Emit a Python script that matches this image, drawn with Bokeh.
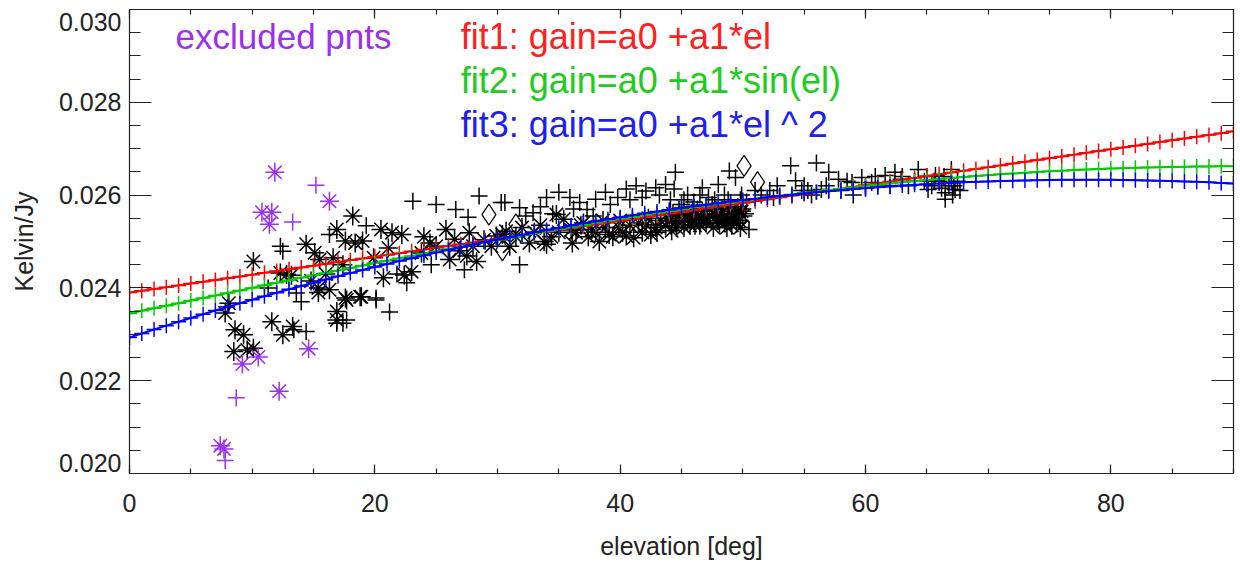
import numpy as np
from bokeh.plotting import figure
from bokeh.models import Range1d, LinearAxis, FixedTicker, Label, CustomJSTickFormatter
from bokeh.embed import file_html
from bokeh.resources import INLINE

# ---------------- data ----------------
# black "+" points (used points)
plus_el = [12.3, 12.5, 13.4, 14.4, 16.3, 16.9, 17.7, 20.1, 21.2, 23.1, 13.6, 19.3, 20.1, 22.6,
           24.6, 27.3, 17.4, 25.0, 26.6, 28.5, 30.3, 27.6, 21.8, 31.8, 14.0, 11.3,
           30.6, 31.8, 32.9, 34.0, 35.0, 35.9, 36.7, 37.3, 38.0, 38.8, 39.8, 40.5, 41.3, 42.1,
           42.9, 43.7, 44.5, 33.5, 36.2, 39.2, 41.8, 43.2, 37.8, 40.8, 34.5, 32.3,
           44.4, 46.7, 48.0, 48.9, 49.4, 45.5, 47.2, 48.5, 49.8, 45.0, 46.0, 47.5, 49.0, 50.3,
           44.8, 46.3, 47.8, 49.6, 50.5, 50.2,
           53.9, 54.3, 53.0, 51.5, 52.2, 55.0, 55.6, 56.0, 57.0, 57.8, 58.9, 59.7, 60.5, 61.6,
           62.4, 62.9, 64.3, 65.1, 65.7, 66.5, 67.0, 67.3, 66.5, 56.4, 58.0, 59.0, 60.0, 61.0,
           63.5, 64.0, 64.8, 65.4, 66.0, 66.8, 67.5, 65.0, 66.2, 67.1, 52.8, 54.8,
           44.1, 45.2, 46.5, 47.7, 48.8, 49.9, 50.0, 45.9, 47.0, 48.3, 49.3, 56.8, 58.5, 60.8,
           62.0, 63.0, 65.6, 66.4, 67.2, 67.7, 51.0, 52.5, 54.0, 55.3]
plus_val = [0.02490, 0.02479, 0.02310, 0.02306, 0.02515, 0.02324, 0.02331, 0.02374, 0.02348, 0.02587,
            0.02389, 0.02534, 0.02378, 0.02411, 0.02450, 0.02439, 0.02324, 0.02580, 0.02569, 0.02598,
            0.02584, 0.02552, 0.02430, 0.02450, 0.02370, 0.02400,
            0.02584, 0.02573, 0.02562, 0.02595, 0.02606, 0.02595, 0.02584, 0.02569, 0.02591, 0.02606,
            0.02595, 0.02613, 0.02620, 0.02609, 0.02616, 0.02623, 0.02649, 0.02575, 0.02570, 0.02580,
            0.02595, 0.02600, 0.02555, 0.02590, 0.02560, 0.02555,
            0.02613, 0.02616, 0.02623, 0.02652, 0.02638, 0.02600, 0.02595, 0.02600, 0.02590, 0.02580,
            0.02585, 0.02580, 0.02575, 0.02585, 0.02570, 0.02570, 0.02570, 0.02575, 0.02526, 0.02560,
            0.02663, 0.02631, 0.02598, 0.02600, 0.02610, 0.02620, 0.02600, 0.02669, 0.02649, 0.02634,
            0.02627, 0.02638, 0.02627, 0.02642, 0.02649, 0.02634, 0.02655, 0.02612, 0.02642, 0.02605,
            0.02655, 0.02612, 0.02591, 0.02612, 0.02610, 0.02600, 0.02615, 0.02620, 0.02620, 0.02630,
            0.02630, 0.02620, 0.02630, 0.02620, 0.02630, 0.02640, 0.02615, 0.02600, 0.02620, 0.02610,
            0.02590, 0.02590, 0.02600, 0.02590, 0.02590, 0.02600, 0.02570, 0.02570, 0.02560, 0.02570,
            0.02560, 0.02620, 0.02630, 0.02640, 0.02620, 0.02640, 0.02630, 0.02640, 0.02620, 0.02610,
            0.02610, 0.02595, 0.02600, 0.02610]

# black asterisk points
star_el = [8.1, 7.8, 8.6, 9.3, 8.5, 9.6, 10.1, 10.1, 11.6, 12.5, 13.3, 12.3, 12.8, 13.2, 14.4,
           15.1, 15.5, 16.3, 16.9, 17.7, 18.9, 18.2, 16.9, 17.6, 18.4, 19.0, 20.5, 21.4, 22.2,
           21.1, 19.9, 16.6, 17.4, 20.7, 22.4, 23.0, 18.8, 17.6, 16.9, 15.4, 15.4, 14.8, 16.0,
           24.5, 25.8, 26.1, 27.7, 27.5, 28.3, 28.9, 29.9, 30.4, 26.9, 23.8, 25.0, 24.0, 26.5,
           28.0, 29.5,
           30.7, 32.6, 34.0, 34.8, 35.4, 36.4, 36.1, 37.7, 39.1, 39.9, 40.5, 41.1, 42.1, 42.9,
           43.7, 44.2, 31.5, 33.0, 33.5, 35.0, 37.0, 38.3, 38.8, 40.0, 41.5, 42.5, 43.3, 31.0,
           32.0, 36.8,
           44.5, 44.8, 45.2, 45.5, 45.8, 46.1, 46.4, 46.7, 47.0, 47.3, 47.6, 47.9, 48.2, 48.5,
           48.8, 49.1, 49.4, 49.7, 50.0, 44.0, 45.0, 46.0, 47.0, 48.0, 49.0, 49.5, 46.5, 48.4,
           38.0, 38.6, 39.4, 40.2, 40.8, 41.8, 42.3, 43.0, 43.8, 44.3, 45.3, 46.2, 47.1, 48.1,
           49.2, 49.9, 44.6, 45.7, 46.8, 47.7, 48.7, 49.8, 34.4, 36.0, 37.4, 33.8]
star_val = [0.02367, 0.02346, 0.02310, 0.02299, 0.02263, 0.02266, 0.02270, 0.02457, 0.02327, 0.02299,
            0.02317, 0.02432, 0.02429, 0.02427, 0.02494, 0.02476, 0.02461, 0.02396, 0.02349, 0.02374,
            0.02381, 0.02555, 0.02526, 0.02501, 0.02497, 0.02501, 0.02526, 0.02519, 0.02515, 0.02486,
            0.02465, 0.02465, 0.02450, 0.02422, 0.02428, 0.02435, 0.02381, 0.02378, 0.02331, 0.02400,
            0.02390, 0.02415, 0.02430,
            0.02497, 0.02526, 0.02461, 0.02519, 0.02469, 0.02457, 0.02504, 0.02512, 0.02515, 0.02480,
            0.02475, 0.02490, 0.02510, 0.02505, 0.02490, 0.02490,
            0.02522, 0.02497, 0.02494, 0.02558, 0.02548, 0.02519, 0.02497, 0.02526, 0.02515, 0.02530,
            0.02512, 0.02508, 0.02536, 0.02530, 0.02534, 0.02523, 0.02510, 0.02520, 0.02535, 0.02520,
            0.02540, 0.02500, 0.02530, 0.02545, 0.02540, 0.02515, 0.02545, 0.02490, 0.02530, 0.02535,
            0.02540, 0.02555, 0.02530, 0.02545, 0.02560, 0.02535, 0.02550, 0.02565, 0.02540, 0.02555,
            0.02530, 0.02545, 0.02560, 0.02540, 0.02550, 0.02535, 0.02560, 0.02545, 0.02555, 0.02545,
            0.02560, 0.02545, 0.02565, 0.02550, 0.02565, 0.02540, 0.02535, 0.02565,
            0.02520, 0.02545, 0.02510, 0.02520, 0.02535, 0.02520, 0.02550, 0.02520, 0.02550, 0.02560,
            0.02555, 0.02560, 0.02550, 0.02540, 0.02550, 0.02565, 0.02530, 0.02535, 0.02545, 0.02560,
            0.02530, 0.02530, 0.02510, 0.02525, 0.02510, 0.02500]

# black diamonds
dia_el = [29.3, 31.5, 30.4, 50.1, 51.2]
dia_val = [0.02558, 0.02537, 0.02481, 0.02663, 0.02628]

# excluded points (purple)
ex_star_el = [11.85, 16.3, 10.8, 11.6, 11.4, 14.6, 9.2, 10.5, 12.2, 7.4, 7.7]
ex_star_val = [0.02649, 0.02587, 0.02563, 0.02563, 0.02537, 0.02269, 0.02236, 0.02251, 0.02177, 0.02060, 0.02053]
ex_plus_el = [15.2, 13.3, 8.7, 7.8]
ex_plus_val = [0.02621, 0.02542, 0.02163, 0.02028]

# fit results (coefficients)
fit_el = list(range(0, 91))
fit1_coef = [0.02390, 3.86e-5]             # gain = a0 + a1*el
fit2_coef = [0.02345, 0.00317]             # gain = a0 + a1*sin(el)
fit3_coef = [0.02293, 8.72e-5, -5.59e-7]   # quadratic in el

x_ticks = [0, 20, 40, 60, 80]
y_ticks = [0.020, 0.022, 0.024, 0.026, 0.028, 0.030]

# ---------------- figure ----------------
FONT = "Liberation Sans"
PURPLE = "#9b30f0"
INK = "#222222"

W, H = 1238, 565
p = figure(width=W, height=H, x_range=Range1d(0, 90), y_range=Range1d(0.020, 0.030),
           output_backend="svg", toolbar_location=None,
           min_border_left=129, min_border_right=W - 1233, min_border_top=9, min_border_bottom=H - 473)
p.xgrid.visible = False
p.ygrid.visible = False
p.outline_line_color = INK
p.outline_line_width = 1.2
p.background_fill_color = "white"
p.border_fill_color = "white"

xt = FixedTicker(ticks=x_ticks, minor_ticks=list(range(0, 91, 5)))
yt = FixedTicker(ticks=y_ticks, minor_ticks=[0.020 + 0.0005 * i for i in range(21)])


def style_axis(ax, tick_in, minor_in, labels=True):
    ax.major_tick_in = tick_in
    ax.major_tick_out = 0
    ax.minor_tick_in = minor_in
    ax.minor_tick_out = 0
    ax.axis_line_color = INK
    ax.major_tick_line_color = INK
    ax.minor_tick_line_color = INK
    ax.major_tick_line_width = 1.2
    ax.minor_tick_line_width = 1.2
    if labels:
        ax.major_label_text_font = FONT
        ax.major_label_text_font_size = "25px"
        ax.major_label_text_color = INK
        ax.axis_label_text_font = FONT
        ax.axis_label_text_font_size = "25px"
        ax.axis_label_text_font_style = "normal"
        ax.axis_label_text_color = INK
    else:
        ax.formatter = CustomJSTickFormatter(code="return ''")
        ax.major_label_standoff = 0


p.xaxis.ticker = xt
p.yaxis.ticker = yt
# end labels (0.020 / 0.030) sit nudged inside the frame, as in the original:
# empty extra lines push them inward
p.yaxis.formatter = CustomJSTickFormatter(code="""
const s = tick.toFixed(3);
if (Math.abs(tick - 0.03) < 1e-9) { return '\\n' + s; }
if (Math.abs(tick - 0.02) < 1e-9) { return s + '\\n\\n\\n'; }
return s;
""")
style_axis(p.xaxis[0], 9, 5)
style_axis(p.yaxis[0], 22, 11)
p.yaxis.major_label_text_line_height = 0.25
p.xaxis.axis_label = "elevation [deg]"
p.yaxis.axis_label = "Kelvin/Jy"
p.xaxis.major_label_standoff = 20
p.xaxis.axis_label_standoff = 17
p.yaxis.major_label_standoff = 8
p.yaxis.axis_label_standoff = 18

top = LinearAxis(ticker=FixedTicker(ticks=x_ticks, minor_ticks=list(range(0, 91, 5))))
style_axis(top, 9, 5, labels=False)
p.add_layout(top, "above")
right = LinearAxis(ticker=FixedTicker(ticks=y_ticks, minor_ticks=[0.020 + 0.0005 * i for i in range(21)]))
style_axis(right, 22, 11, labels=False)
p.add_layout(right, "right")

# data points
p.scatter(plus_el, plus_val, marker="cross", size=17, line_color="black", line_width=1.5)
p.scatter(star_el, star_val, marker="asterisk", size=19, line_color="black", line_width=1.5)
p.scatter(dia_el, dia_val, marker="diamond", size=21, fill_color=None, line_color="black", line_width=1.2)
p.scatter(ex_star_el, ex_star_val, marker="asterisk", size=19, line_color=PURPLE, line_width=1.5)
p.scatter(ex_plus_el, ex_plus_val, marker="cross", size=17, line_color=PURPLE, line_width=1.5)

# fits
el = np.array(fit_el, dtype=float)
f1 = fit1_coef[0] + fit1_coef[1] * el
f2 = fit2_coef[0] + fit2_coef[1] * np.sin(np.radians(el))
f3 = fit3_coef[0] + fit3_coef[1] * el + fit3_coef[2] * el ** 2
for fy, col in [(f1, "#ff0000"), (f2, "#00cc00"), (f3, "#0000ff")]:
    p.line(el, fy, line_color=col, line_width=2)
    p.scatter(el, fy, marker="cross", size=15, line_color=col, line_width=1.5)

# annotations
p.add_layout(Label(x=3.75, y=0.02942, text="excluded pnts", text_color=PURPLE,
                   text_font=FONT, text_font_size="35px", text_baseline="middle"))
for txt, yy, col in [("fit1: gain=a0 +a1*el", 0.02942, "#ff2020"),
                     ("fit2: gain=a0 +a1*sin(el)", 0.02847, "#20cc20"),
                     ("fit3: gain=a0 +a1*el ^ 2", 0.02752, "#2020ee")]:
    p.add_layout(Label(x=27.0, y=yy, text=txt, text_color=col,
                       text_font=FONT, text_font_size="36px", text_baseline="middle"))

open("out.html", "w").write(file_html(p, INLINE))
